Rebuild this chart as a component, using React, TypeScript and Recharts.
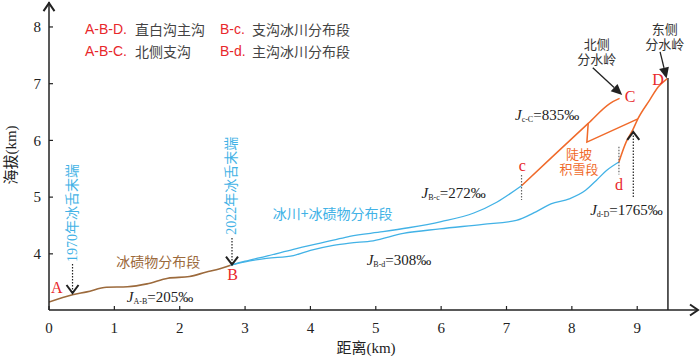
import React from 'react';
import { LineChart, Line, XAxis, YAxis, ReferenceLine, ReferenceDot, Label } from 'recharts';

// 剖面数据：距离(km) / 海拔(km)
const kmAB = [0, 0.36, 0.58, 0.88, 1.2, 1.5, 1.82, 2.15, 2.41, 2.56, 2.78];
const elevAB = [3.15, 3.28, 3.33, 3.41, 3.42, 3.47, 3.57, 3.6, 3.68, 3.72, 3.8];

const kmBc = [2.78, 3.0, 3.33, 3.74, 4.35, 4.6, 5.11, 5.5, 6.0, 6.5, 6.85, 7.23];
const elevBc = [3.8, 3.87, 3.96, 4.08, 4.24, 4.31, 4.39, 4.46, 4.57, 4.72, 4.91, 5.2];

const kmBd = [2.78, 3.0, 3.33, 3.74, 4.0, 4.35, 4.6, 4.96, 5.42, 5.98, 6.64, 7.15, 7.45, 7.68, 7.96, 8.21, 8.37, 8.53, 8.72];
const elevBd = [3.8, 3.86, 3.92, 3.97, 4.06, 4.15, 4.19, 4.23, 4.36, 4.44, 4.52, 4.59, 4.74, 4.88, 4.97, 5.12, 5.29, 5.47, 5.62];

const kmcC = [7.23, 7.7, 8.25, 8.58, 8.73];
const elevcC = [5.2, 5.71, 6.3, 6.65, 6.74];

const kmWedge = [8.25, 8.23, 9.01];
const elevWedge = [6.3, 5.97, 6.38];

const kmdD = [8.72, 8.83, 8.93, 9.01, 9.19, 9.32, 9.46];
const elevdD = [5.62, 5.97, 6.18, 6.38, 6.71, 6.94, 7.09];

const divideKm = 9.47;
const divideTop = 7.1;

const xTicks = [0, 1, 2, 3, 4, 5, 6, 7, 8, 9];
const yTicks = [4, 5, 6, 7, 8];

const pts = (xs: number[], ys: number[]) => xs.map((x, i) => ({ x, y: ys[i] }));

const SERIF = '"Liberation Serif", "Times New Roman", "Noto Sans CJK SC", serif';
const SANS = '"Liberation Sans", Arial, "Noto Sans CJK SC", sans-serif';
const CJK = '"Noto Sans CJK SC", sans-serif';
const BROWN = '#9c6a3c';
const BLUE = '#42b2e6';
const ORANGE = '#f06a2a';
const RED = '#e8272b';
const INK = '#222';

const textAt = (value: string, color: string, size = 14, family = CJK, rotate = false) => (p: any) => (
  <text
    x={p.cx}
    y={p.cy}
    textAnchor="middle"
    dominantBaseline="central"
    fontSize={size}
    fontFamily={family}
    fill={color}
    transform={rotate ? `rotate(-90 ${p.cx} ${p.cy})` : undefined}
  >
    {value}
  </text>
);

// 两行文字（第一行居中于锚点）
const twoLines = (a: string, b: string, color: string, size = 13, gap = 15) => (p: any) => (
  <text x={p.cx} y={p.cy} textAnchor="middle" dominantBaseline="central" fontSize={size} fontFamily={CJK} fill={color}>
    <tspan x={p.cx}>{a}</tspan>
    <tspan x={p.cx} dy={gap}>{b}</tspan>
  </text>
);

const jLabel = (sub: string, val: string) => (p: any) => (
  <text x={p.cx} y={p.cy} dominantBaseline="central" fontFamily={SERIF} fontSize={15} fill={INK}>
    <tspan fontStyle="italic">J</tspan>
    <tspan fontSize={8} dy={4}>{sub}</tspan>
    <tspan dy={-4}>{val}</tspan>
  </text>
);

const dottedArrow = (p: any) => {
  const { x1, y1, x2, y2 } = p;
  const dir = y2 > y1 ? 1 : -1;
  return (
    <g>
      <line x1={x1} y1={y1} x2={x2} y2={y2} stroke={INK} strokeWidth={1.2} strokeDasharray="1.5 1.5" />
      <path d={`M${x2 - 6},${y2 - dir * 8} L${x2},${y2} L${x2 + 6},${y2 - dir * 8}`} fill="none" stroke={INK} strokeWidth={2} />
    </g>
  );
};

const solidArrow = (p: any) => {
  const { x1, y1, x2, y2 } = p;
  const a = Math.atan2(y2 - y1, x2 - x1);
  const L = 11;
  const w = 5;
  const bx = x2 - L * Math.cos(a);
  const by = y2 - L * Math.sin(a);
  const nx = -Math.sin(a) * w;
  const ny = Math.cos(a) * w;
  return (
    <g>
      <line x1={x1} y1={y1} x2={bx} y2={by} stroke={INK} strokeWidth={1.3} />
      <path d={`M${x2},${y2} L${bx + nx},${by + ny} L${bx - nx},${by - ny} Z`} fill={INK} />
    </g>
  );
};

const dottedMark = (p: any) => (
  <line x1={p.x1} y1={p.y1} x2={p.x2} y2={p.y2} stroke="#666" strokeWidth={1.2} strokeDasharray="1.5 1.5" />
);

const plainLine = (p: any) => <line x1={p.x1} y1={p.y1} x2={p.x2} y2={p.y2} stroke="#333" strokeWidth={1.6} />;

const arrowRight = (p: any) => (
  <path d={`M${p.cx - 8},${p.cy - 5.5} L${p.cx},${p.cy} L${p.cx - 8},${p.cy + 5.5}`} fill="none" stroke={INK} strokeWidth={2} />
);
const arrowUp = (p: any) => (
  <path d={`M${p.cx - 5.5},${p.cy + 8} L${p.cx},${p.cy} L${p.cx + 5.5},${p.cy + 8}`} fill="none" stroke={INK} strokeWidth={2} />
);

const legendRows = [
  [['A-B-D.', '直白沟主沟'], ['B-c.', '支沟冰川分布段']],
  [['A-B-C.', '北侧支沟'], ['B-d.', '主沟冰川分布段']],
];

export default function App() {
  return (
    <div style={{ position: 'absolute', left: 0, top: 0, width: 700, height: 356 }}>
      <LineChart width={700} height={356} margin={{ top: 2, right: 2, bottom: 0, left: 0 }}>
        <XAxis
          type="number"
          dataKey="x"
          domain={[0, 9.93]}
          allowDataOverflow
          ticks={xTicks}
          interval={0}
          height={46}
          tickSize={-4}
          tickMargin={16}
          axisLine={{ stroke: INK, strokeWidth: 1.5 }}
          tickLine={{ stroke: INK, strokeWidth: 1.2 }}
          tick={{ fill: INK, fontSize: 15, fontFamily: SERIF }}
        >
          <Label
            content={() => (
              <text x={366} y={348} textAnchor="middle" dominantBaseline="central" fontSize={15} fontFamily={SERIF} fill={INK}>
                距离(km)
              </text>
            )}
          />
        </XAxis>
        <YAxis
          type="number"
          dataKey="y"
          domain={[3.01, 8.44]}
          allowDataOverflow
          ticks={yTicks}
          interval={0}
          width={49}
          tickSize={-4}
          tickMargin={12}
          axisLine={{ stroke: INK, strokeWidth: 1.5 }}
          tickLine={{ stroke: INK, strokeWidth: 1.2 }}
          tick={{ fill: INK, fontSize: 15, fontFamily: SERIF }}
        >
          <Label
            content={() => (
              <text x={11} y={155} textAnchor="middle" dominantBaseline="central" fontSize={15} fontFamily={SERIF} fill={INK} transform="rotate(-90 11 155)">
                海拔(km)
              </text>
            )}
          />
        </YAxis>

        <ReferenceDot x={9.93} y={3.01} r={0} shape={arrowRight} />
        <ReferenceDot x={0} y={8.42} r={0} shape={arrowUp} />

        <ReferenceLine segment={[{ x: divideKm, y: 3.01 }, { x: divideKm, y: divideTop }]} shape={plainLine} />

        <Line data={pts(kmAB, elevAB)} dataKey="y" type="monotone" stroke={BROWN} strokeWidth={1.6} dot={false} isAnimationActive={false} />
        <Line data={pts(kmBc, elevBc)} dataKey="y" type="monotone" stroke={BLUE} strokeWidth={1.3} dot={false} isAnimationActive={false} />
        <Line data={pts(kmBd, elevBd)} dataKey="y" type="monotone" stroke={BLUE} strokeWidth={1.3} dot={false} isAnimationActive={false} />
        <Line data={pts(kmcC, elevcC)} dataKey="y" type="monotone" stroke={ORANGE} strokeWidth={1.5} dot={false} isAnimationActive={false} />
        <Line data={pts(kmWedge, elevWedge)} dataKey="y" type="linear" stroke={ORANGE} strokeWidth={1.5} dot={false} isAnimationActive={false} />
        <Line data={pts(kmdD, elevdD)} dataKey="y" type="monotone" stroke={ORANGE} strokeWidth={1.5} dot={false} isAnimationActive={false} />

        {/* 虚线标记 */}
        <ReferenceLine segment={[{ x: 7.23, y: 5.39 }, { x: 7.23, y: 4.95 }]} shape={dottedMark} />
        <ReferenceLine segment={[{ x: 8.72, y: 5.89 }, { x: 8.72, y: 5.4 }]} shape={dottedMark} />
        <ReferenceLine segment={[{ x: 0.36, y: 3.82 }, { x: 0.36, y: 3.31 }]} shape={dottedArrow} />
        <ReferenceLine segment={[{ x: 2.8, y: 4.28 }, { x: 2.8, y: 3.81 }]} shape={dottedArrow} />
        <ReferenceLine segment={[{ x: 8.94, y: 5.0 }, { x: 8.94, y: 6.15 }]} shape={dottedArrow} />
        <ReferenceLine segment={[{ x: 8.32, y: 7.28 }, { x: 8.77, y: 6.8 }]} shape={solidArrow} />
        <ReferenceLine segment={[{ x: 9.35, y: 7.56 }, { x: 9.45, y: 7.09 }]} shape={solidArrow} />

        {/* 点位字母 */}
        <ReferenceDot x={0.12} y={3.4} r={0} shape={textAt('A', RED, 16, SERIF)} />
        <ReferenceDot x={2.81} y={3.64} r={0} shape={textAt('B', RED, 16, SERIF)} />
        <ReferenceDot x={8.89} y={6.78} r={0} shape={textAt('C', RED, 16, SERIF)} />
        <ReferenceDot x={9.32} y={7.08} r={0} shape={textAt('D', RED, 16, SERIF)} />
        <ReferenceDot x={7.24} y={5.55} r={0} shape={textAt('c', RED, 16, SERIF)} />
        <ReferenceDot x={8.72} y={5.23} r={0} shape={textAt('d', RED, 16, SERIF)} />

        {/* 分段文字 */}
        <ReferenceDot x={1.67} y={3.87} r={0} shape={textAt('冰碛物分布段', BROWN, 14)} />
        <ReferenceDot x={4.34} y={4.72} r={0} shape={textAt('冰川+冰碛物分布段', BLUE, 14)} />
        <ReferenceDot x={8.11} y={5.78} r={0} shape={twoLines('陡坡', '积雪段', ORANGE)} />
        <ReferenceDot x={8.38} y={7.72} r={0} shape={twoLines('北侧', '分水岭', '#333')} />
        <ReferenceDot x={9.42} y={7.98} r={0} shape={twoLines('东侧', '分水岭', '#333')} />
        <ReferenceDot x={0.36} y={4.72} r={0} shape={textAt('1970年冰舌末端', BLUE, 14, SERIF, true)} />
        <ReferenceDot x={2.8} y={5.2} r={0} shape={textAt('2022年冰舌末端', BLUE, 14, SERIF, true)} />

        {/* 坡降 */}
        <ReferenceDot x={1.19} y={3.24} r={0} shape={jLabel('A-B', '=205‰')} />
        <ReferenceDot x={4.86} y={3.9} r={0} shape={jLabel('B-d', '=308‰')} />
        <ReferenceDot x={5.7} y={5.08} r={0} shape={jLabel('B-c', '=272‰')} />
        <ReferenceDot x={8.28} y={4.77} r={0} shape={jLabel('d-D', '=1765‰')} />
        <ReferenceDot x={7.13} y={6.45} r={0} shape={jLabel('c-C', '=835‰')} />
      </LineChart>

      {legendRows.map((row, ri) => (
        <div key={ri} style={{ position: 'absolute', top: 19 + ri * 21.5, left: 85, height: 20, lineHeight: '20px', whiteSpace: 'nowrap' }}>
          {row.map(([code, name], ci) => (
            <span key={ci} style={{ position: 'absolute', left: ci * 135, top: 0 }}>
              <span style={{ fontFamily: SANS, fontSize: 14, color: RED }}>{code}</span>
              <span style={{ position: 'absolute', left: ci === 0 ? 50 : 32, fontFamily: CJK, fontSize: 14, color: '#444' }}>{name}</span>
            </span>
          ))}
        </div>
      ))}
    </div>
  );
}
